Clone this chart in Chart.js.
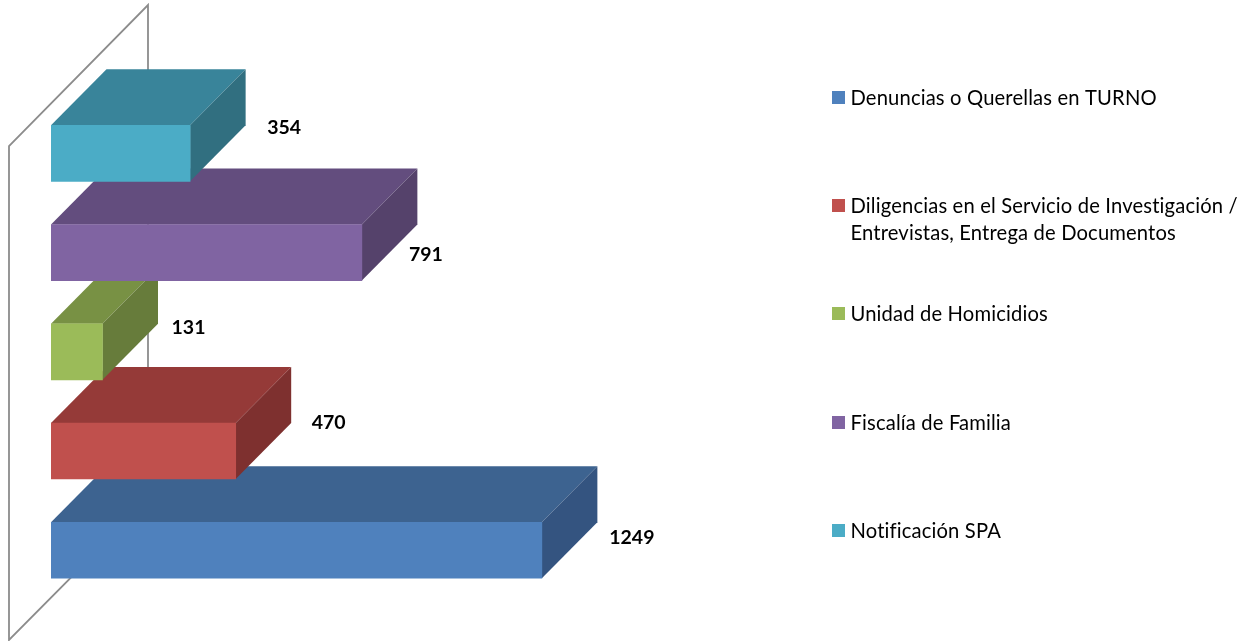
<!DOCTYPE html>
<html>
<head>
<meta charset="utf-8">
<style>html,body{margin:0;padding:0;background:#fff}canvas{display:block}</style>
<script src="https://cdn.jsdelivr.net/npm/chart.js@4/dist/chart.umd.min.js"></script>
</head>
<body>
<canvas id="c" width="1251" height="641"></canvas>
<script>
const categories = ["Denuncias o Querellas en TURNO","Diligencias en el Servicio de Investigación / Entrevistas, Entrega de Documentos","Unidad de Homicidios","Fiscalía de Familia","Notificación SPA"];
const values = [1249,470,131,791,354];
const legendLines = [["Denuncias o Querellas en TURNO"],["Diligencias en el Servicio de Investigación /","Entrevistas, Entrega de Documentos"],["Unidad de Homicidios"],["Fiscalía de Familia"],["Notificación SPA"]];
const legendY = [97,205,313,422,530];
const frontColors = ["#4F81BD","#C0504D","#9BBB59","#8064A2","#4BACC6"];
const topColors = ["#3D6390","#953A38","#789144","#634D7E","#39849A"];
const sideColors = ["#345480","#7E302F","#677C3B","#55426B","#316F80"];
const labelNudge = [[90,-13],[93,-29],[86,-25],[64,1],[94,-26]];
const depthX = 55.5, depthY = 56;

function poly(ctx, pts, fill){
  ctx.beginPath();
  pts.forEach((p,i)=> i?ctx.lineTo(p[0],p[1]):ctx.moveTo(p[0],p[1]));
  ctx.closePath();
  ctx.fillStyle = fill;
  ctx.fill();
}

const threeD = {
  id:'threeD',
  beforeDatasetsDraw(chart){
    const ctx = chart.ctx;
    // back wall
    ctx.save();
    ctx.strokeStyle = '#8C8C8C';
    ctx.lineWidth = 1.8;
    ctx.lineJoin = 'miter';
    ctx.beginPath();
    ctx.moveTo(9,640);ctx.lineTo(9,146);ctx.lineTo(148,5);ctx.lineTo(148,500);ctx.closePath();
    ctx.stroke();
    ctx.restore();
    const bars = chart.getDatasetMeta(0).data;
    bars.forEach((b,i)=>{
      const x0 = b.base, x1 = b.x, yt = b.y-b.height/2, yb = b.y+b.height/2;
      poly(ctx,[[x0,yt],[x1,yt],[x1+depthX,yt-depthY],[x0+depthX,yt-depthY]],topColors[i]);
      poly(ctx,[[x1,yt],[x1+depthX,yt-depthY],[x1+depthX,yb-depthY],[x1,yb]],sideColors[i]);
    });
  },
  afterDatasetsDraw(chart){
    const ctx = chart.ctx;
    const bars = chart.getDatasetMeta(0).data;
    ctx.save();
    ctx.textBaseline = 'middle';
    ctx.textAlign = 'center';
    ctx.fillStyle = '#000';
    ctx.font = 'bold 19.5px Lato';
    bars.forEach((b,i)=>{
      ctx.fillText(String(values[i]), b.x+labelNudge[i][0], b.y+labelNudge[i][1]+0.7);
    });
    // legend
    ctx.textAlign = 'left';
    ctx.font = '20.2px Lato';
    ctx.letterSpacing = '0.15px';
    legendLines.forEach((lines,i)=>{
      ctx.fillStyle = frontColors[i];
      ctx.fillRect(832,legendY[i]-6,13,13);
      ctx.fillStyle = '#000';
      lines.forEach((t,j)=>ctx.fillText(t,850.5,legendY[i]+1+j*27));
    });
    ctx.restore();
  }
};

new Chart(document.getElementById('c'),{
  type:'bar',
  data:{labels:categories,datasets:[{data:values,backgroundColor:frontColors,borderWidth:0,barThickness:56}]},
  options:{
    indexAxis:'y',
    responsive:false,
    animation:false,
    layout:{padding:{left:51,right:414,top:103.7,bottom:41.1}},
    plugins:{legend:{display:false},tooltip:{enabled:false},title:{display:false}},
    scales:{
      x:{display:false,min:0,max:2000},
      y:{display:false,reverse:true}
    }
  },
  plugins:[threeD]
});
</script>
</body>
</html>
